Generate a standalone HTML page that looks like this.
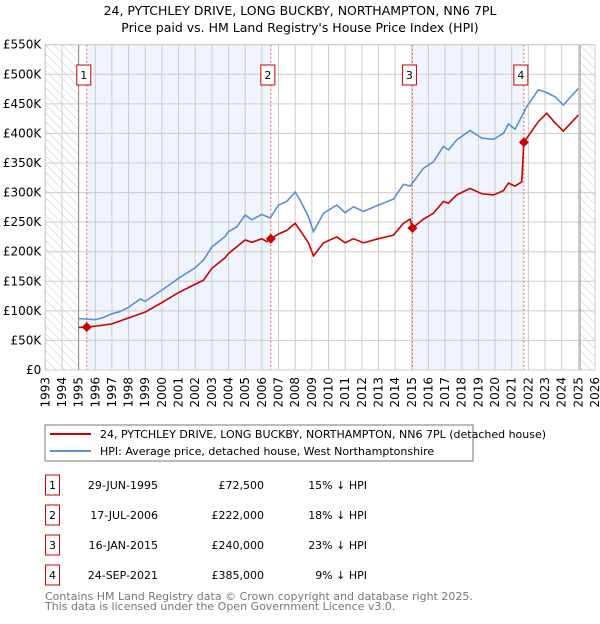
<!DOCTYPE html>
<html><head><meta charset="utf-8"><style>
body{margin:0;background:#fff;width:600px;height:620px;overflow:hidden;font-family:"DejaVu Sans","Liberation Sans",sans-serif}
text{font-family:"DejaVu Sans","Liberation Sans",sans-serif}
</style></head><body>
<svg id="chart" width="600" height="620" xmlns="http://www.w3.org/2000/svg">
<text x="300" y="15" text-anchor="middle" font-size="12.5">24, PYTCHLEY DRIVE, LONG BUCKBY, NORTHAMPTON, NN6 7PL</text>
<text x="300" y="32" text-anchor="middle" font-size="12.5">Price paid vs. HM Land Registry's House Price Index (HPI)</text>
<defs><pattern id="hatch" width="6" height="6" patternUnits="userSpaceOnUse" patternTransform="rotate(-45)"><line x1="0" y1="0" x2="0" y2="6" stroke="#bbb" stroke-width="0.8"/></pattern></defs>
<g id="plot"></g>
<rect x="45" y="425" width="428" height="36" fill="#fff" stroke="#777"/>
<line x1="50" y1="434" x2="91" y2="434" stroke="#cc0000" stroke-width="2"/>
<text x="100" y="438" font-size="11">24, PYTCHLEY DRIVE, LONG BUCKBY, NORTHAMPTON, NN6 7PL (detached house)</text>
<line x1="50" y1="451" x2="91" y2="451" stroke="#5b8fd0" stroke-width="2"/>
<text x="100" y="455" font-size="11">HPI: Average price, detached house, West Northamptonshire</text>
<g id="table" font-size="11"></g>
<text x="45" y="600" font-size="11" fill="#777">Contains HM Land Registry data © Crown copyright and database right 2025.</text>
<text x="45" y="610" font-size="11" fill="#777">This data is licensed under the Open Government Licence v3.0.</text>
</svg>
<script>
const hpiYears=[1995.0,1995.5,1996.0,1996.5,1997.0,1997.5,1998.0,1998.7,1999.0,2000.0,2001.0,2002.0,2002.5,2003.0,2003.8,2004.0,2004.5,2005.0,2005.4,2006.0,2006.5,2007.0,2007.5,2008.0,2008.3,2008.8,2009.1,2009.7,2010.5,2011.0,2011.5,2012.1,2013.0,2013.9,2014.5,2014.9,2015.7,2016.3,2016.9,2017.2,2017.7,2018.5,2019.2,2019.9,2020.5,2020.8,2021.2,2021.9,2022.6,2023.1,2023.6,2024.1,2025.0];
const hpiValues=[87,86,85,89,95,99,106,120,116,135,155,173,186,208,226,234,242,262,254,263,257,279,285,301,287,259,234,265,279,266,276,268,279,289,314,311,341,352,378,372,389,405,392,390,400,416,407,445,474,469,462,448,476];
const paidYears=[1995.0,1995.49,1996.0,1997.0,1998.0,1999.0,2000.0,2001.0,2002.0,2002.5,2003.0,2003.8,2004.0,2005.0,2005.4,2006.0,2006.3,2006.54,2007.0,2007.5,2008.0,2008.3,2008.8,2009.1,2009.7,2010.5,2011.0,2011.5,2012.1,2013.0,2013.9,2014.5,2014.9,2015.04,2015.7,2016.3,2016.9,2017.2,2017.7,2018.5,2019.2,2019.9,2020.5,2020.8,2021.2,2021.6,2021.73,2022.6,2023.1,2023.6,2024.1,2025.0];
const paidValues=[72,72.5,74,78,88,98,114,131,145,152,172,190,197,220,216,222,217,222,230,236,248,236,215,193,215,225,215,222,215,222,228,248,255,240,255,265,285,282,296,307,298,296,303,316,311,318,385,420,434,418,404,431];
const saleYears=[1995.49,2006.54,2015.04,2021.73];
const salePrices=[72.5,222,240,385];
const saleLabels=["1","2","3","4"];
const saleDates=["29-JUN-1995","17-JUL-2006","16-JAN-2015","24-SEP-2021"];
const salePriceText=["£72,500","£222,000","£240,000","£385,000"];
const salePct=["15% ↓ HPI","18% ↓ HPI","23% ↓ HPI","9% ↓ HPI"];
const yTicks=[0,50,100,150,200,250,300,350,400,450,500,550];
const yTickLabels=["£0","£50K","£100K","£150K","£200K","£250K","£300K","£350K","£400K","£450K","£500K","£550K"];
const xYears=[1993,1994,1995,1996,1997,1998,1999,2000,2001,2002,2003,2004,2005,2006,2007,2008,2009,2010,2011,2012,2013,2014,2015,2016,2017,2018,2019,2020,2021,2022,2023,2024,2025,2026];

const NS="http://www.w3.org/2000/svg";
const X0=45.3,X1=595,Y0=370,Y1=44.7;
const xs=y=>X0+(y-1993)/(2026-1993)*(X1-X0);
const ys=v=>Y0-v/550*(Y0-Y1);
const plot=document.getElementById('plot');
function mk(tag,attrs,parent){const e=document.createElementNS(NS,tag);for(const k in attrs)e.setAttribute(k,attrs[k]);(parent||plot).appendChild(e);return e;}

const bg=mk('rect',{x:X0,y:Y1,width:X1-X0,height:Y0-Y1,fill:'#fff'});


for(let i=0;i<saleYears.length;i+=2){
  const s=mk('rect',{x:xs(saleYears[i]),y:Y1,width:xs(saleYears[i+1])-xs(saleYears[i]),height:Y0-Y1,fill:'#f0f4fc'});
  
  
}
const h1=mk('rect',{x:X0,y:Y1,width:xs(1995)-X0,height:Y0-Y1,fill:'url(#hatch)'});


const h2=mk('rect',{x:xs(2025.1),y:Y1,width:X1-xs(2025.1),height:Y0-Y1,fill:'url(#hatch)'});


yTicks.forEach((t,i)=>{
  const l=mk('line',{x1:X0,x2:X1,y1:ys(t),y2:ys(t),stroke:'#ccc','stroke-width':1});
  
  
  const tx=mk('text',{x:X0-4,y:ys(t)+4,'text-anchor':'end','font-size':12});
  
  
  tx.textContent=yTickLabels[i];
});
xYears.forEach(yr=>{
  const l=mk('line',{x1:xs(yr),x2:xs(yr),y1:Y1,y2:Y0,stroke:'#ccc','stroke-width':1});
  
  
  const tx=mk('text',{x:0,y:0,'text-anchor':'end','font-size':12,transform:`translate(${xs(yr)+4},${Y0+7}) rotate(-90)`});
  
  
  tx.textContent=yr;
});
[1995,2025.1].forEach(yr=>{
  const l=mk('line',{x1:xs(yr),x2:xs(yr),y1:Y1,y2:Y0,stroke:'#888','stroke-width':1});
  
  
});
saleYears.forEach((yr,i)=>{
  const l=mk('line',{x1:xs(yr),x2:xs(yr),y1:Y1,y2:Y0,stroke:'#e06060','stroke-width':1,'stroke-dasharray':'2,2'});
  
  
  const b=mk('rect',{x:xs(yr)-10,y:65,width:14,height:20,fill:'#fff',stroke:'#cc0000'});
  
  
  const t=mk('text',{x:xs(yr)-3,y:79,'text-anchor':'middle','font-size':11});
  
  
  t.textContent=saleLabels[i];
});
const hp=mk('polyline',{points:hpiYears.map((y,i)=>xs(y)+','+ys(hpiValues[i])).join(' '),fill:'none',stroke:'#5b8fd0','stroke-width':1.6});


const pp=mk('polyline',{points:paidYears.map((y,i)=>xs(y)+','+ys(paidValues[i])).join(' '),fill:'none',stroke:'#cc0000','stroke-width':1.6});


saleYears.forEach((yr,i)=>{
  const cx=xs(yr),cy=ys(salePrices[i]);
  const d=mk('polygon',{points:`${cx},${cy-5} ${cx+5},${cy} ${cx},${cy+5} ${cx-5},${cy}`,fill:'#cc0000'});
  
  
});
const frame=mk('rect',{x:X0,y:Y1,width:X1-X0,height:Y0-Y1,fill:'none',stroke:'#ccc'});



const tbl=document.getElementById('table');
saleLabels.forEach((lb,i)=>{
  const y=485+i*30;
  const b=mk('rect',{x:45.5,y:y-10,width:14,height:20,fill:'#fff',stroke:'#cc0000'},tbl);
  
  
  const n=mk('text',{x:52.5,y:y+4,'text-anchor':'middle'},tbl);
  
  
  n.textContent=lb;
  const d=mk('text',{x:158,y:y+4,'text-anchor':'end'},tbl);
  
  
  d.textContent=saleDates[i];
  const p=mk('text',{x:264,y:y+4,'text-anchor':'end'},tbl);
  
  
  p.textContent=salePriceText[i];
  const c=mk('text',{x:367,y:y+4,'text-anchor':'end'},tbl);
  
  
  c.textContent=salePct[i];
});
</script>
</body></html>
